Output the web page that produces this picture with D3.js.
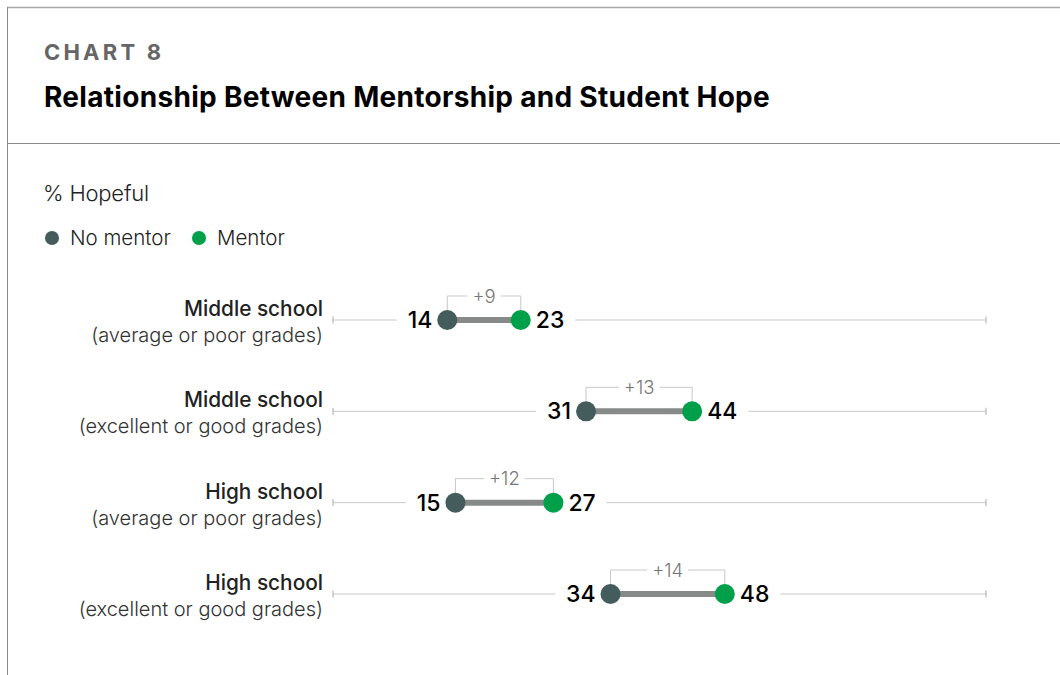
<!DOCTYPE html>
<html><head><meta charset="utf-8">
<script src="https://cdn.jsdelivr.net/npm/d3@7"></script>
<style>
html,body{margin:0;padding:0;background:#fff;}
svg{display:block;font-family:Inter,"Noto Sans",sans-serif;}
</style></head>
<body>
<svg id="c" width="1060" height="675"></svg>
<script>
const categoriesMain = ["Middle school","Middle school","High school","High school"];
const categoriesSub = ["(average or poor grades)","(excellent or good grades)","(average or poor grades)","(excellent or good grades)"];
const noMentor = [14,31,15,34];
const mentor = [23,44,27,48];
const seriesNames = ["No mentor","Mentor"];
const seriesColors = ["#455c5c","#00a04b"];
const axisDomain = [0,80];

const svg = d3.select("#c");
// frame
svg.append("line").attr("x1",7).attr("x2",1060).attr("y1",7.5).attr("y2",7.5).attr("stroke","#a8a8a8").attr("stroke-width",1.5);
svg.append("line").attr("x1",7.5).attr("x2",7.5).attr("y1",7).attr("y2",675).attr("stroke","#8a8a8a").attr("stroke-width",1);
svg.append("line").attr("x1",7).attr("x2",1060).attr("y1",143.5).attr("y2",143.5).attr("stroke","#8a8a8a").attr("stroke-width",1);

svg.append("text").attr("x",44).attr("y",60).text("CHART 8")
  .attr("font-size",22).attr("font-weight",700).attr("fill","#666").attr("letter-spacing","3.2px");
svg.append("text").attr("x",44).attr("y",107).text("Relationship Between Mentorship and Student Hope")
  .attr("font-size",28).attr("font-weight",700).attr("fill","#000").attr("letter-spacing","0.3px");
svg.append("text").attr("x",43).attr("y",201).text("% Hopeful")
  .attr("font-size",22).attr("font-weight",300).attr("fill","#222").attr("letter-spacing","-0.2px");

// legend
const lg = svg.append("g");
const legX = [52,199];
seriesNames.forEach((n,i)=>{
  lg.append("circle").attr("cx",legX[i]).attr("cy",238).attr("r",7).attr("fill",seriesColors[i]);
  lg.append("text").attr("x",legX[i]+18).attr("y",245).text(n).attr("font-size",20.5).attr("font-weight",300).attr("fill","#222");
});

const x = d3.scaleLinear().domain(axisDomain).range([333,986]);
const yRows = d3.scalePoint().domain(d3.range(4)).range([320,594]);

d3.range(4).forEach(i=>{
  const y = yRows(i);
  const g = svg.append("g");
  const x0 = x(noMentor[i]), x1 = x(mentor[i]);
  // track
  g.append("line").attr("x1",x.range()[0]).attr("x2",x.range()[1]).attr("y1",y).attr("y2",y).attr("stroke","#c8c8c8").attr("stroke-width",1);
  [x.range()[0],x.range()[1]].forEach(xx=>g.append("line").attr("x1",xx).attr("x2",xx).attr("y1",y-3.5).attr("y2",y+3.5).attr("stroke","#aaa").attr("stroke-width",1));
  const gapRect = g.append("rect").attr("y",y-12).attr("height",24).attr("fill","#fff");
  // bracket
  const by = y-24;
  g.append("path").attr("d",`M${x0},${y-9}V${by}H${x1}V${y-9}`).attr("fill","none").attr("stroke","#c8c8c8").attr("stroke-width",1);
  const dl = "+"+(mentor[i]-noMentor[i]);
  const brRect = g.append("rect").attr("y",by-8).attr("height",16).attr("fill","#fff");
  const dt = g.append("text").attr("x",(x0+x1)/2).attr("y",by+6.5).attr("text-anchor","middle").text(dl)
    .attr("font-size",18.5).attr("font-weight",300).attr("fill","#777");
  const dw = dt.node().getComputedTextLength();
  brRect.attr("x",(x0+x1)/2-dw/2-5).attr("width",dw+10);
  // connector
  g.append("line").attr("x1",x0).attr("x2",x1).attr("y1",y).attr("y2",y).attr("stroke","#868b89").attr("stroke-width",6);
  g.append("circle").attr("cx",x0).attr("cy",y).attr("r",10).attr("fill",seriesColors[0]);
  g.append("circle").attr("cx",x1).attr("cy",y).attr("r",10).attr("fill",seriesColors[1]);
  const lt = g.append("text").attr("x",x0-15).attr("y",y+8).attr("text-anchor","end").text(noMentor[i])
    .attr("font-size",23).attr("font-weight",500).attr("fill","#000");
  const rt = g.append("text").attr("x",x1+15).attr("y",y+8).text(mentor[i])
    .attr("font-size",23).attr("font-weight",500).attr("fill","#000");
  const lw = lt.node().getComputedTextLength(), rw = rt.node().getComputedTextLength();
  gapRect.attr("x",x0-15-lw-11).attr("width",(x1+15+rw+11)-(x0-15-lw-11));
  // category labels
  g.append("text").attr("x",323).attr("y",y-4).attr("text-anchor","end").text(categoriesMain[i])
    .attr("font-size",20.8).attr("font-weight",500).attr("fill","#222");
  g.append("text").attr("x",323).attr("y",y+22).attr("text-anchor","end").text(categoriesSub[i])
    .attr("font-size",20).attr("font-weight",300).attr("fill","#333");
});
</script>
</body></html>
